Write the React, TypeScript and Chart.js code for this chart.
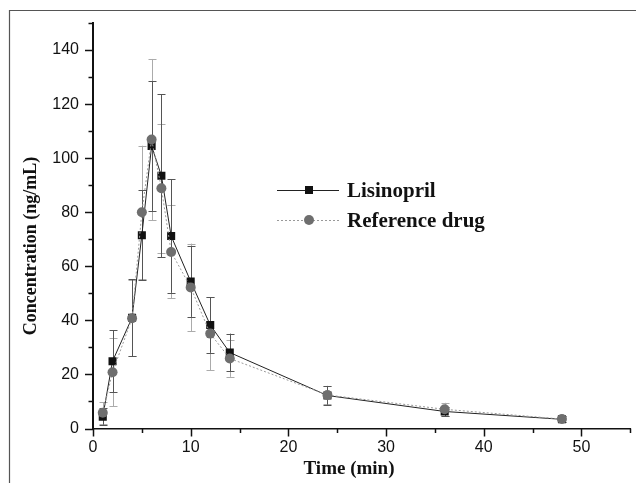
import React, { useEffect, useRef } from "react";
import { Chart, registerables } from "chart.js";

Chart.register(...registerables);

const timePoints = [1, 2, 4, 5, 6, 7, 8, 10, 12, 14, 24, 36, 48];
const lisinopril = [4.4, 24.9, 41.0, 71.5, 104.5, 93.5, 71.2, 54.4, 38.3, 28.1, 12.2, 6.3, 3.4];
const lisinoprilErr = [3.0, 11.4, 14.3, 16.6, 24.0, 30.2, 21.0, 13.1, 10.3, 7.0, 3.4, 1.8, 1.1];
const referenceDrug = [5.8, 20.8, 40.8, 80.0, 106.9, 88.9, 65.3, 52.2, 35.1, 25.9, 12.4, 7.1, 3.5];
const referenceErr = [4.0, 12.5, 14.0, 24.6, 29.8, 23.8, 17.2, 16.2, 13.5, 6.8, 3.4, 2.4, 1.2];
const seriesLabels = ["Lisinopril", "Reference drug"];
const xTitle = "Time (min)";
const yTitle = "Concentration (ng/mL)";

const SERIF = "'Liberation Serif', 'Times New Roman', serif";
const SANS = "'Liberation Sans', Arial, sans-serif";

const errorBarPlugin = {
  id: "errorBars",
  beforeDatasetsDraw(chart: any) {
    const { ctx } = chart;
    const xs = chart.scales.x;
    const ys = chart.scales.y;
    const sets = [
      { vals: referenceDrug, errs: referenceErr, color: "#ababab" },
      { vals: lisinopril, errs: lisinoprilErr, color: "#555555" },
    ];
    ctx.save();
    ctx.lineWidth = 1;
    for (const s of sets) {
      ctx.strokeStyle = s.color;
      for (let i = 0; i < timePoints.length; i++) {
        const px = Math.round(xs.getPixelForValue(timePoints[i])) + 0.5;
        const hi = ys.getPixelForValue(s.vals[i] + s.errs[i]);
        const lo = ys.getPixelForValue(s.vals[i] - s.errs[i]);
        ctx.beginPath();
        ctx.moveTo(px, hi);
        ctx.lineTo(px, lo);
        ctx.moveTo(px - 4, Math.round(hi) + 0.5);
        ctx.lineTo(px + 4, Math.round(hi) + 0.5);
        ctx.moveTo(px - 4, Math.round(lo) + 0.5);
        ctx.lineTo(px + 4, Math.round(lo) + 0.5);
        ctx.stroke();
      }
    }
    ctx.restore();
  },
};

const decorPlugin = {
  id: "decor",
  beforeDraw(chart: any) {
    const { ctx } = chart;
    ctx.save();
    ctx.strokeStyle = "#555";
    ctx.lineWidth = 1.2;
    ctx.beginPath();
    ctx.moveTo(9.5, 483);
    ctx.lineTo(9.5, 10.5);
    ctx.lineTo(636, 10.5);
    ctx.stroke();
    ctx.restore();
  },
  afterDraw(chart: any) {
    const { ctx, chartArea } = chart;
    const xs = chart.scales.x;
    const ys = chart.scales.y;
    ctx.save();
    ctx.strokeStyle = "#111";
    ctx.lineWidth = 1.5;
    for (const t of ys.ticks) {
      const py = Math.round(ys.getPixelForValue(t.value)) + 0.5;
      const len = t.value % 20 === 0 ? 8 : 4.5;
      ctx.beginPath();
      ctx.moveTo(chartArea.left, py);
      ctx.lineTo(chartArea.left - len, py);
      ctx.stroke();
    }
    for (const t of xs.ticks) {
      const px = Math.round(xs.getPixelForValue(t.value)) + 0.5;
      const len = t.value % 10 === 0 ? 8 : 4.5;
      ctx.beginPath();
      ctx.moveTo(px, chartArea.bottom);
      ctx.lineTo(px, chartArea.bottom + len);
      ctx.stroke();
    }
    ctx.fillStyle = "#111";
    ctx.font = `bold 18px ${SERIF}`;
    ctx.textAlign = "center";
    ctx.textBaseline = "middle";
    ctx.save();
    ctx.translate(31, 246);
    ctx.rotate(-Math.PI / 2);
    ctx.fillText(yTitle, 0, 0);
    ctx.restore();
    ctx.font = `bold 19px ${SERIF}`;
    ctx.fillText(xTitle, 349, 469);

    const lx0 = 277;
    const lx1 = 339;
    const mx = 309;
    const y1 = 190;
    const y2 = 220;
    ctx.lineWidth = 1;
    ctx.strokeStyle = "#222";
    ctx.setLineDash([]);
    ctx.beginPath();
    ctx.moveTo(lx0, y1 + 0.5);
    ctx.lineTo(lx1, y1 + 0.5);
    ctx.stroke();
    ctx.fillStyle = "#111";
    ctx.fillRect(mx - 4, y1 - 4, 8, 8);
    ctx.strokeStyle = "#999";
    ctx.setLineDash([2, 2]);
    ctx.beginPath();
    ctx.moveTo(lx0, y2 + 0.5);
    ctx.lineTo(lx1, y2 + 0.5);
    ctx.stroke();
    ctx.setLineDash([]);
    ctx.fillStyle = "#6e6e6e";
    ctx.beginPath();
    ctx.arc(mx, y2, 5, 0, Math.PI * 2);
    ctx.fill();
    ctx.fillStyle = "#111";
    ctx.font = `bold 21px ${SERIF}`;
    ctx.textAlign = "left";
    ctx.textBaseline = "alphabetic";
    ctx.fillText(seriesLabels[0], 347, 197);
    ctx.fillText(seriesLabels[1], 347, 227);
    ctx.restore();
  },
};

export default function App() {
  const ref = useRef<HTMLCanvasElement | null>(null);
  useEffect(() => {
    if (!ref.current) return;
    const chart = new Chart(ref.current, {
      type: "line",
      data: {
        datasets: [
          {
            label: seriesLabels[0],
            data: timePoints.map((t, i) => ({ x: t, y: lisinopril[i] })),
            borderColor: "#222",
            borderWidth: 1,
            backgroundColor: "#111",
            pointStyle: "rect",
            pointRadius: 5.7,
            pointBorderWidth: 0,
            pointBackgroundColor: "#111",
            tension: 0,
            order: 1,
          },
          {
            label: seriesLabels[1],
            data: timePoints.map((t, i) => ({ x: t, y: referenceDrug[i] })),
            borderColor: "#9a9a9a",
            borderWidth: 1,
            borderDash: [2, 2],
            backgroundColor: "#6e6e6e",
            pointStyle: "circle",
            pointRadius: 5,
            pointBorderWidth: 0,
            pointBackgroundColor: "#6e6e6e",
            tension: 0,
            order: 0,
          },
        ],
      },
      options: {
        animation: false,
        responsive: false,
        devicePixelRatio: 1,
        layout: { padding: { top: 23, right: 0, left: 0, bottom: 0 } },
        plugins: {
          legend: { display: false },
          tooltip: { enabled: false },
        },
        scales: {
          x: {
            type: "linear",
            min: 0,
            max: 55,
            afterFit: (s: any) => {
              s.height = 54.5;
              s.paddingRight = 0;
              s.paddingLeft = 0;
            },
            grid: { display: true, drawOnChartArea: false, drawTicks: false },
            border: { display: true, color: "#111", width: 1.5 },
            ticks: {
              stepSize: 5,
              autoSkip: false,
              maxRotation: 0,
              padding: 9,
              color: "#111",
              font: { family: SANS, size: 16 },
              callback: (v: any) => (Number(v) % 10 === 0 ? String(v) : ""),
            },
          },
          y: {
            type: "linear",
            min: 0,
            max: 150,
            afterFit: (s: any) => {
              s.width = 93;
              s.paddingTop = 0;
              s.paddingBottom = 0;
            },
            grid: { display: true, drawOnChartArea: false, drawTicks: false },
            border: { display: true, color: "#111", width: 2 },
            ticks: {
              stepSize: 10,
              autoSkip: false,
              padding: 14,
              color: "#111",
              font: { family: SANS, size: 16 },
              callback: (v: any) => (Number(v) % 20 === 0 ? String(v) : ""),
            },
          },
        },
      },
      plugins: [errorBarPlugin, decorPlugin],
    });
    return () => chart.destroy();
  }, []);
  return (
    <div style={{ position: "fixed", left: 0, top: 0, width: 636, height: 483, background: "#fff" }}>
      <canvas ref={ref} width={636} height={483} style={{ display: "block", width: 636, height: 483 }} />
    </div>
  );
}
